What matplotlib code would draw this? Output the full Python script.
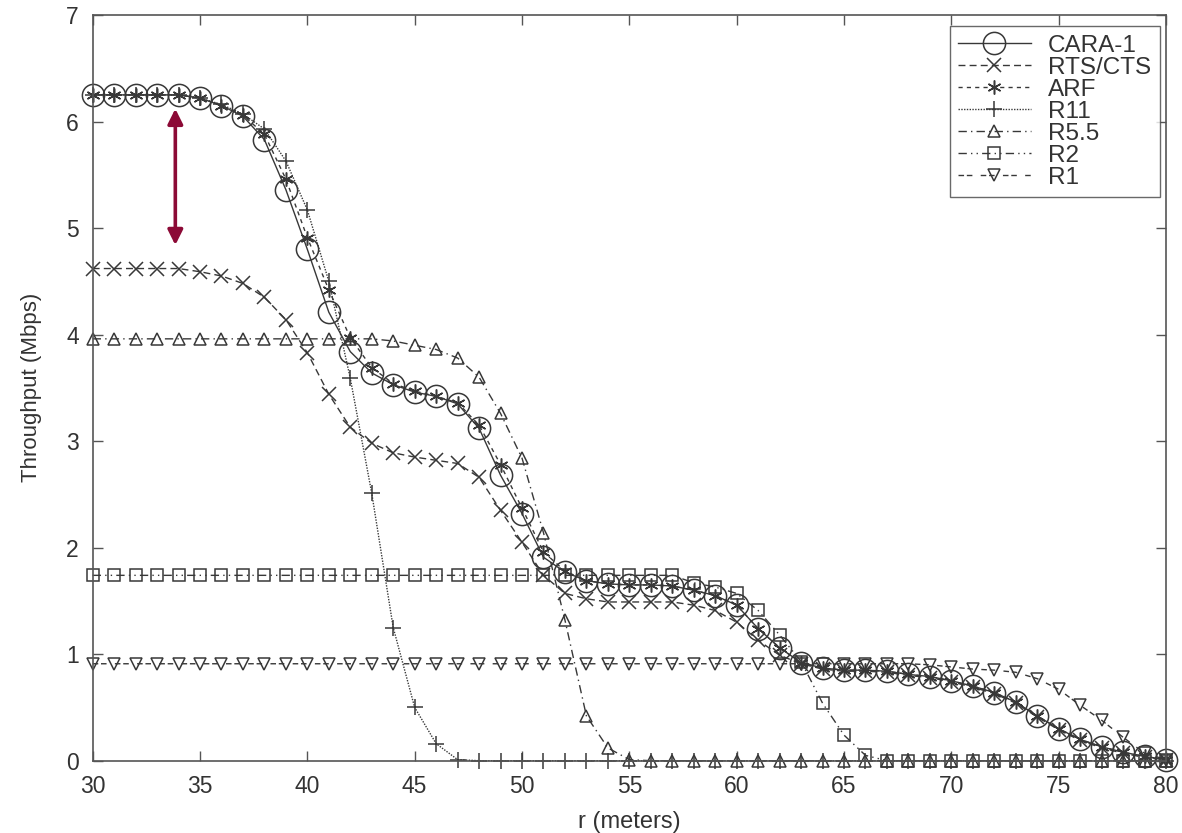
import numpy as np
import matplotlib.pyplot as plt

# distance from AP, one sample per metre
r = list(range(30, 81))

cara1 = [6.25] * 5 + [6.22, 6.15, 6.05, 5.83, 5.36, 4.80, 4.21, 3.84, 3.64, 3.53,
                      3.46, 3.42, 3.35, 3.12, 2.68, 2.32, 1.91, 1.77, 1.69, 1.66,
                      1.65, 1.65, 1.64, 1.60, 1.55, 1.46, 1.24, 1.06, 0.92, 0.87,
                      0.85, 0.85, 0.84, 0.81, 0.79, 0.75, 0.70, 0.64, 0.55, 0.42,
                      0.30, 0.20, 0.13, 0.08, 0.04, 0.01]
rts_cts = [4.62] * 5 + [4.59, 4.55, 4.48, 4.35, 4.14, 3.83, 3.44, 3.13, 2.98, 2.89,
                        2.85, 2.82, 2.79, 2.66, 2.35, 2.05, 1.74, 1.57, 1.52, 1.49,
                        1.49, 1.49, 1.49, 1.46, 1.41, 1.30, 1.13, 0.99, 0.91, 0.86,
                        0.84, 0.84, 0.83, 0.80, 0.78, 0.74, 0.69, 0.63, 0.54, 0.41,
                        0.29, 0.19, 0.12, 0.07, 0.03, 0.01]
arf = [6.25] * 5 + [6.22, 6.15, 6.06, 5.88, 5.46, 4.91, 4.42, 3.97, 3.69, 3.54,
                    3.47, 3.42, 3.36, 3.15, 2.78, 2.37, 1.96, 1.78, 1.69, 1.66,
                    1.65, 1.65, 1.64, 1.60, 1.55, 1.46, 1.24, 1.06, 0.92, 0.87,
                    0.85, 0.85, 0.84, 0.81, 0.79, 0.75, 0.70, 0.64, 0.55, 0.42,
                    0.30, 0.20, 0.13, 0.08, 0.04, 0.01]
r11 = [6.25] * 5 + [6.22, 6.16, 6.07, 5.93, 5.63, 5.17, 4.50, 3.59, 2.51, 1.25,
                    0.50, 0.16, 0.01] + [0.0] * 33
r5_5 = [3.96] * 14 + [3.94, 3.90, 3.86, 3.78, 3.60, 3.26, 2.84, 2.14, 1.32, 0.42,
                      0.12, 0.01] + [0.0] * 25
r2 = [1.74] * 28 + [1.67, 1.63, 1.57, 1.41, 1.18, 0.93, 0.54, 0.24, 0.05] + [0.0] * 14
r1 = [0.91] * 37 + [0.91, 0.91, 0.90, 0.88, 0.86, 0.85, 0.83, 0.77, 0.67, 0.52,
                    0.38, 0.22, 0.07, 0.01]

plt.rcParams['font.family'] = ['Liberation Sans', 'DejaVu Sans']

line_col = '#383838'
text_col = '#333333'

fig = plt.figure(figsize=(11.82, 8.33), dpi=100)
ax = fig.add_axes([0.0784, 0.0868, 0.9081, 0.8952])

series = [
    (cara1, 'CARA-1', '-', 'o', 16),
    (rts_cts, 'RTS/CTS', (0, (5, 3)), 'x', 10),
    (arf, 'ARF', (0, (3, 3)), (6, 2, 0), 10),
    (r11, 'R11', (0, (1, 1)), '+', 12),
    (r5_5, 'R5.5', (0, (6, 3, 1, 3)), '^', 8),
    (r2, 'R2', (0, (6, 3, 1, 3, 1, 3)), 's', 8),
    (r1, 'R1', (0, (4, 2, 4, 6)), 'v', 8),
]
for vals, name, ls, mk, ms in series:
    ax.plot(r, vals, linestyle=ls, color=line_col, linewidth=1.0,
            marker=mk, markersize=ms, markerfacecolor='none',
            markeredgecolor=line_col, markeredgewidth=1.1, label=name,
            clip_on=False)

# double arrow showing the gap between CARA-1 and RTS/CTS
ax.annotate('', xy=(33.85, 6.12), xytext=(33.85, 4.84),
            arrowprops=dict(arrowstyle='<|-|>,head_length=0.9,head_width=0.45',
                            color='#8c0a36', lw=2.6, shrinkA=0, shrinkB=0))

ax.set_xlim(30, 80)
ax.set_ylim(0, 7)
ax.set_xticks(np.arange(30, 81, 5))
ax.set_yticks(np.arange(0, 8, 1))
ax.tick_params(direction='in', length=7, width=1, color='#555555',
               top=True, right=True, labelsize=16.5, labelcolor=text_col, pad=10)
for sp in ax.spines.values():
    sp.set_color('#555555')
    sp.set_linewidth(1.2)

ax.set_xlabel('r (meters)', fontsize=17, color=text_col, labelpad=10)
ax.set_ylabel('Throughput (Mbps)', fontsize=16, color=text_col, labelpad=17)

leg = ax.legend(loc='upper right', bbox_to_anchor=(0.994, 0.985), fontsize=17.5,
                frameon=True, fancybox=False, edgecolor='#444444',
                handlelength=3.0, labelspacing=0.0, borderpad=0.35,
                handletextpad=0.7, borderaxespad=0)
leg.get_frame().set_linewidth(1.0)
for t in leg.get_texts():
    t.set_color(text_col)

fig.savefig('out.png', dpi=100)
